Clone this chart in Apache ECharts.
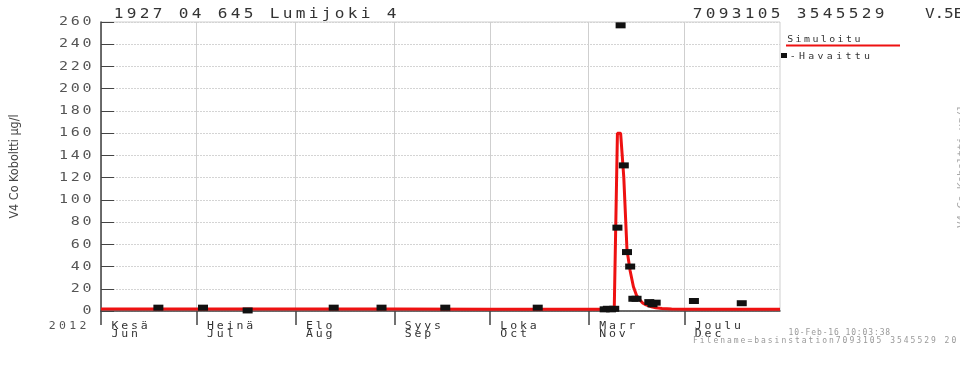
<!DOCTYPE html>
<html><head><meta charset="utf-8">
<script src="https://cdn.jsdelivr.net/npm/echarts@6/dist/echarts.min.js"></script>
<style>html,body{margin:0;padding:0;background:#fff}#c{width:960px;height:368px}</style>
</head><body><div id="c"></div>
<script>
// ---------- data ----------
const titleLeft = '1927 04 645 Lumijoki 4';
const titleRight = '7093105 3545529';
const titleRight2 = 'V.5E';
const yAxisName = 'V4 Co Koboltti µg/l';
const yearLabel = '2012';
const monthStarts = ['2012-06-01', '2012-07-01', '2012-08-01', '2012-09-01', '2012-10-01', '2012-11-01', '2012-12-01'];
const monthsFi = ['Kesä', 'Heinä', 'Elo', 'Syys', 'Loka', 'Marr', 'Joulu'];
const monthsEn = ['Jun', 'Jul', 'Aug', 'Sep', 'Oct', 'Nov', 'Dec'];
const simName = 'Simuloitu';
const obsName = '-Havaittu';
const stampText = '10-Feb-16 10:03:38';
const fileText = 'Filename=basinstation7093105 3545529 20';
const yMin = 0, yMax = 260, yStep = 20;
const yTickLabels = ['0', '20', '40', '60', '80', '100', '120', '140', '160', '180', '200', '220', '240', '260'];
const xMin = '2012-06-01', xMax = '2012-12-31';

const simDates = ['2012-06-01', '2012-07-01', '2012-08-01', '2012-09-01', '2012-10-01', '2012-11-01', '2012-11-09',
  '2012-11-10', '2012-11-11', '2012-11-12', '2012-11-13', '2012-11-14', '2012-11-15', '2012-11-16', '2012-11-17',
  '2012-11-18', '2012-11-19', '2012-11-20', '2012-11-21', '2012-11-22', '2012-11-24', '2012-11-27', '2012-12-03', '2012-12-31'];
const simValues = [1.9, 1.9, 1.8, 1.7, 1.6, 1.5, 1.5,
  160, 160, 120, 55, 36, 22, 14, 10,
  7, 5.5, 4.5, 3.5, 3, 2.3, 1.8, 1.6, 1.5];

const obsDates = ['2012-06-19', '2012-07-03', '2012-07-17', '2012-08-13', '2012-08-28', '2012-09-17', '2012-10-16',
  '2012-11-06', '2012-11-07', '2012-11-08', '2012-11-09', '2012-11-10', '2012-11-11', '2012-11-12', '2012-11-13',
  '2012-11-14', '2012-11-15', '2012-11-16', '2012-11-20', '2012-11-21', '2012-11-22', '2012-12-04', '2012-12-19'];
const obsValues = [3, 3, 0.5, 3, 3, 3, 3,
  1.5, 2, 1.5, 2, 75, 257, 131, 53,
  40, 11, 11, 8, 6, 7.5, 9, 7];

// ---------- helpers ----------
const MONO = 'DejaVu Sans Mono';
function spaced(str) {
  return str.split('').map(c => '{t|' + c + '}').join('');
}
// pitch = horizontal distance between characters (px), sx = horizontal glyph stretch
function gText(str, x, y, o) {
  const sx = o.sx || 1;
  return {
    type: 'text', x: x, y: y, silent: true, rotation: o.rot || 0, scaleX: sx, z: 10,
    style: {
      text: spaced(str),
      rich: { t: { width: o.pitch / sx, align: 'center', fontSize: o.size, fontFamily: o.font || MONO, fill: o.color, lineHeight: o.size + 2 } },
      verticalAlign: o.va || 'top', align: 'left'
    }
  };
}

const chart = echarts.init(document.getElementById('c'), null, { renderer: 'canvas' });
const monthTicks = monthStarts.map(d => echarts.time.parse(d).getTime());

const option = {
  backgroundColor: '#ffffff',
  animation: false,
  grid: { left: 99, right: 180, top: 22, bottom: 57, show: true, borderColor: '#cfcfcf', borderWidth: 1 },
  xAxis: {
    type: 'time', min: xMin, max: xMax,
    axisLine: { show: true, lineStyle: { color: '#444', width: 1.5 } },
    axisTick: { show: true, inside: false, length: 14, customValues: monthTicks, lineStyle: { color: '#444', width: 1.5 } },
    splitLine: { show: true, lineStyle: { color: '#cfcfcf', width: 1 } },
    axisLabel: { show: false, customValues: monthTicks }
  },
  yAxis: {
    type: 'value', min: yMin, max: yMax, interval: yStep,
    name: yAxisName, nameLocation: 'middle', nameGap: 80,
    nameTextStyle: { fontFamily: 'DejaVu Sans Condensed', fontSize: 12.5, color: '#444' },
    axisLine: { show: true, lineStyle: { color: '#444', width: 1.5 } },
    axisTick: { show: true, inside: true, length: 13, lineStyle: { color: '#444', width: 1 } },
    splitLine: { show: true, lineStyle: { color: '#d4d4d4', width: 1, type: [2, 1] } },
    axisLabel: { show: false }
  },
  series: [
    {
      name: simName, type: 'line', showSymbol: false, symbol: 'none',
      lineStyle: { color: '#ee1111', width: 3 },
      data: simDates.map((d, i) => [d, simValues[i]]), z: 2
    },
    {
      name: obsName, type: 'scatter', symbol: 'rect', symbolSize: [10, 6],
      itemStyle: { color: '#111', opacity: 1 },
      data: obsDates.map((d, i) => [d, obsValues[i]]), z: 3
    }
  ]
};
chart.setOption(option);

// ---------- texts placed with the axes' own scales ----------
const g = [];
const yPitch = 11.8;
yTickLabels.forEach(lbl => {
  const py = chart.convertToPixel({ yAxisIndex: 0 }, Number(lbl));
  g.push(gText(lbl, 93 - lbl.length * yPitch, py, { pitch: yPitch, size: 12.5, sx: 1.2, color: '#555', va: 'middle' }));
});
monthStarts.forEach((d, i) => {
  const px = chart.convertToPixel({ xAxisIndex: 0 }, d);
  g.push(gText(monthsFi[i], px + 9, 320, { pitch: 9.8, size: 10, sx: 1.15, color: '#333' }));
  g.push(gText(monthsEn[i], px + 9, 328, { pitch: 9.8, size: 10, sx: 1.15, color: '#333' }));
});
const opts = { pitch: 13, size: 14, sx: 1.15, color: '#333' };
g.push(gText(titleLeft, 112, 6, opts));
g.push(gText(titleRight, 691, 6, opts));
g.push(gText(titleRight2, 925, 6, { pitch: 9.5, size: 14, sx: 1.15, color: '#333' }));
g.push(gText(yearLabel, 47, 320, { pitch: 10.3, size: 10, sx: 1.15, color: '#555' }));
g.push(gText(simName, 786, 34, { pitch: 8.4, size: 9, sx: 1.1, color: '#333' }));
g.push({ type: 'line', silent: true, shape: { x1: 786, y1: 45.5, x2: 900, y2: 45.5 }, style: { stroke: '#ee1111', lineWidth: 2 } });
g.push({ type: 'rect', silent: true, shape: { x: 781, y: 53, width: 6, height: 5 }, style: { fill: '#111' } });
g.push(gText(obsName, 788, 51, { pitch: 9.3, size: 9, sx: 1.1, color: '#333' }));
g.push(gText(stampText, 788, 328, { pitch: 5.7, size: 8, color: '#999' }));
g.push(gText(fileText, 692, 336, { pitch: 6.8, size: 8, color: '#999' }));
g.push(gText(yAxisName, 956, 228, { pitch: 6.5, size: 11, color: '#aaa', rot: Math.PI / 2 }));
chart.setOption({ graphic: g });
</script>
</body></html>
